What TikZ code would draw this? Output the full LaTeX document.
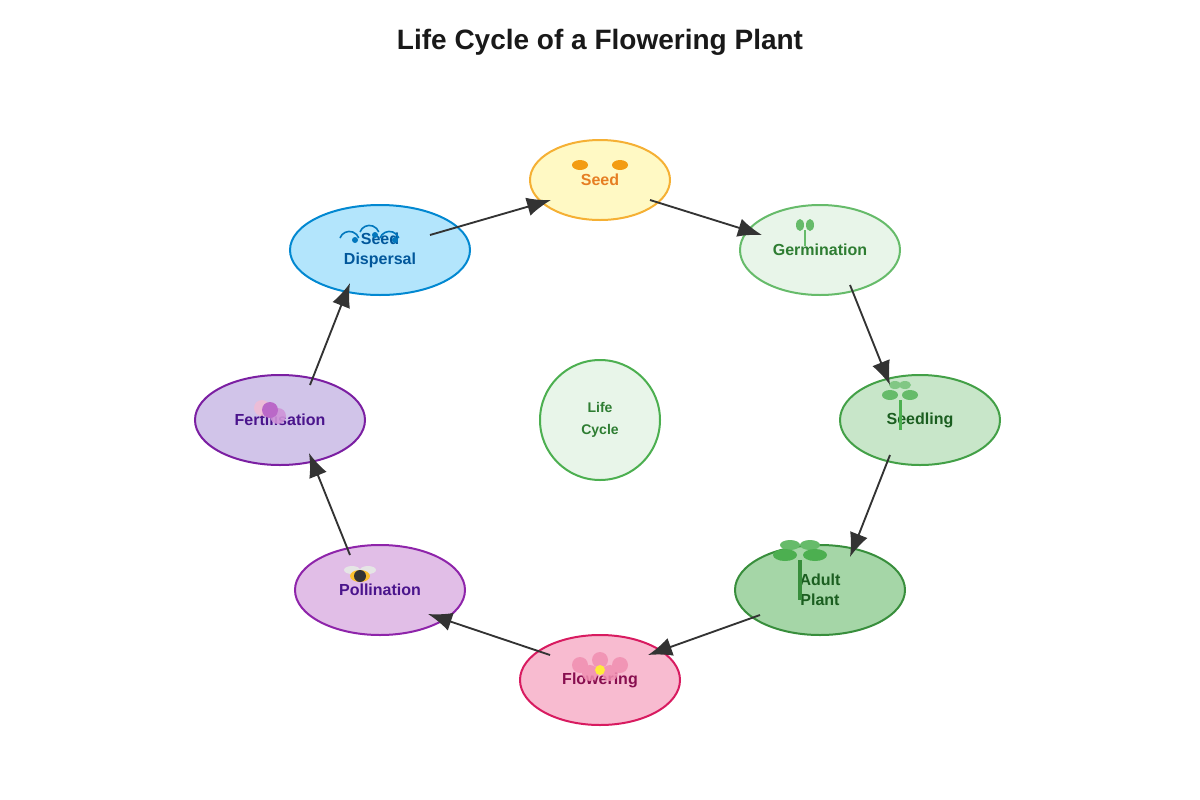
\documentclass[tikz,border=0pt]{standalone}
\usepackage{fontspec}
\setmainfont{Liberation Sans}
\usetikzlibrary{arrows.meta,shapes.geometric}
\definecolor{arr}{HTML}{333333}
\begin{document}
\begin{tikzpicture}[x=0.75pt,y=-0.75pt,
  st/.style={ellipse,draw,line width=1.5pt,inner sep=0pt,font=\bfseries\fontsize{12}{14}\selectfont,align=center},
  lbl/.style={inner sep=0pt,font=\bfseries\fontsize{12}{15}\selectfont,align=center},
  ar/.style={draw=arr,line width=1.4pt,-{Latex[length=18pt,width=14pt]}}]
\useasboundingbox (0,0) rectangle (1200,800);
\node[font=\bfseries\fontsize{21}{24}\selectfont,text=black!90] (title) at (600,42) {Life Cycle of a Flowering Plant};
\node[st,minimum width=105pt,minimum height=60pt,fill={rgb,255:red,255;green,249;blue,196},draw={rgb,255:red,245;green,176;blue,52}] (seed) at (600,180) {};
\node[st,minimum width=120pt,minimum height=67.5pt,fill={rgb,255:red,232;green,245;blue,233},draw={rgb,255:red,102;green,187;blue,106}] (germ) at (820,250) {};
\node[st,minimum width=120pt,minimum height=67.5pt,fill={rgb,255:red,200;green,230;blue,201},draw={rgb,255:red,67;green,160;blue,71}] (seedl) at (920,420) {};
\node[st,minimum width=127.5pt,minimum height=67.5pt,fill={rgb,255:red,165;green,214;blue,167},draw={rgb,255:red,56;green,142;blue,60}] (adult) at (820,590) {};
\node[st,minimum width=120pt,minimum height=67.5pt,fill={rgb,255:red,248;green,187;blue,208},draw={rgb,255:red,216;green,27;blue,96}] (flow) at (600,680) {};
\node[st,minimum width=127.5pt,minimum height=67.5pt,fill={rgb,255:red,225;green,190;blue,231},draw={rgb,255:red,142;green,36;blue,170}] (poll) at (380,590) {};
\node[st,minimum width=127.5pt,minimum height=67.5pt,fill={rgb,255:red,209;green,196;blue,233},draw={rgb,255:red,123;green,31;blue,162}] (fert) at (280,420) {};
\node[st,minimum width=135pt,minimum height=67.5pt,fill={rgb,255:red,179;green,229;blue,252},draw={rgb,255:red,2;green,136;blue,209}] (disp) at (380,250) {};
\node[circle,draw={rgb,255:red,76;green,175;blue,80},line width=1.5pt,fill={rgb,255:red,232;green,245;blue,233},minimum size=90pt,inner sep=0pt,align=center,text={rgb,255:red,46;green,125;blue,50},font=\bfseries\fontsize{10.5}{16}\selectfont] (center) at (600,420) {Life\\Cycle};
% labels
\node[lbl,text={rgb,255:red,230;green,126;blue,34}] (seedT) at (600,180) {Seed};
\node[lbl,text={rgb,255:red,46;green,125;blue,50}] (germT) at (820,250) {Germination};
\node[lbl,text={rgb,255:red,27;green,94;blue,32}] (seedlT) at (920,420) {Seedling};
\node[lbl,text={rgb,255:red,27;green,94;blue,32}] (adultT) at (820,590) {Adult\\Plant};
\node[lbl,text={rgb,255:red,136;green,14;blue,79}] (flowT) at (600,680) {Flowering};
\node[lbl,text={rgb,255:red,74;green,20;blue,140}] (pollT) at (380,590) {Pollination};
\node[lbl,text={rgb,255:red,74;green,20;blue,140}] (fertT) at (280,420) {Fertilisation};
\node[lbl,text={rgb,255:red,1;green,87;blue,155}] (dispT) at (380,250) {Seed\\Dispersal};
% icons (drawn over text, as in the reference)
\fill[color={rgb,255:red,243;green,156;blue,18}] (580,165) ellipse (6pt and 3.75pt) (620,165) ellipse (6pt and 3.75pt);
\draw[line width=1.2pt,color={rgb,255:red,102;green,187;blue,106}] (805,230) -- (805,246);
\fill[color={rgb,255:red,102;green,187;blue,106}] (800,225) ellipse (3pt and 4.5pt) (810,225) ellipse (3pt and 4.5pt);
\fill[color={rgb,255:red,129;green,199;blue,132}] (895,385) ellipse (4.5pt and 3pt) (905,385) ellipse (4.5pt and 3pt);
\fill[color={rgb,255:red,102;green,187;blue,106}] (890,395) ellipse (6pt and 3.75pt) (910,395) ellipse (6pt and 3.75pt);
\fill[color={rgb,255:red,76;green,175;blue,80}] (898.5,400) rectangle (901.5,430);
\fill[color={rgb,255:red,102;green,187;blue,106}] (790,545) ellipse (7.5pt and 3.75pt) (810,545) ellipse (7.5pt and 3.75pt);
\fill[color={rgb,255:red,76;green,175;blue,80}] (785,555) ellipse (9pt and 4.5pt) (815,555) ellipse (9pt and 4.5pt);
\fill[color={rgb,255:red,56;green,142;blue,60}] (798,560) rectangle (802,600);
\fill[color={rgb,255:red,240;green,143;blue,177},opacity=0.85] (580,665) circle (6pt) (600,660) circle (6pt) (620,665) circle (6pt) (590,673) circle (6pt) (610,673) circle (6pt);
\fill[color={rgb,255:red,255;green,235;blue,59}] (600,670) circle (3.75pt);
\fill[gray!20] (352,570) ellipse (6pt and 3pt) (368,570) ellipse (6pt and 3pt);
\fill[color={rgb,255:red,251;green,192;blue,45}] (360,576) ellipse (7.5pt and 4.5pt);
\fill[black!80] (360,576) circle (4.5pt);
\fill[color={rgb,255:red,248;green,187;blue,208},opacity=0.7] (262,408) circle (6pt);
\fill[color={rgb,255:red,206;green,147;blue,216},opacity=0.9] (278,416) circle (6pt);
\fill[color={rgb,255:red,186;green,104;blue,200}] (270,410) circle (6pt);
\draw[color={rgb,255:red,2;green,119;blue,189},line width=1.2pt] (340,238) arc (160:20:7.5pt) (360,232) arc (160:20:7.5pt) (380,238) arc (160:20:7.5pt);
\fill[color={rgb,255:red,2;green,119;blue,189}] (355,240) circle (2.25pt) (375,235) circle (2.25pt) (395,240) circle (2.25pt);
% arrow anchor points
\coordinate (a1) at (430,235); \coordinate (b1) at (551,200);
\coordinate (a2) at (650,200); \coordinate (b2) at (762,235);
\coordinate (a3) at (850,285); \coordinate (b3) at (890,385);
\coordinate (a4) at (890,455); \coordinate (b4) at (850,557);
\coordinate (a5) at (760,615); \coordinate (b5) at (648,655);
\coordinate (a6) at (550,655); \coordinate (b6) at (428,614);
\coordinate (a7) at (350,555); \coordinate (b7) at (309,453);
\coordinate (a8) at (310,385); \coordinate (b8) at (350,283);
\foreach \i in {1,...,8} \draw[ar] (a\i) -- (b\i);
\end{tikzpicture}
\end{document}
